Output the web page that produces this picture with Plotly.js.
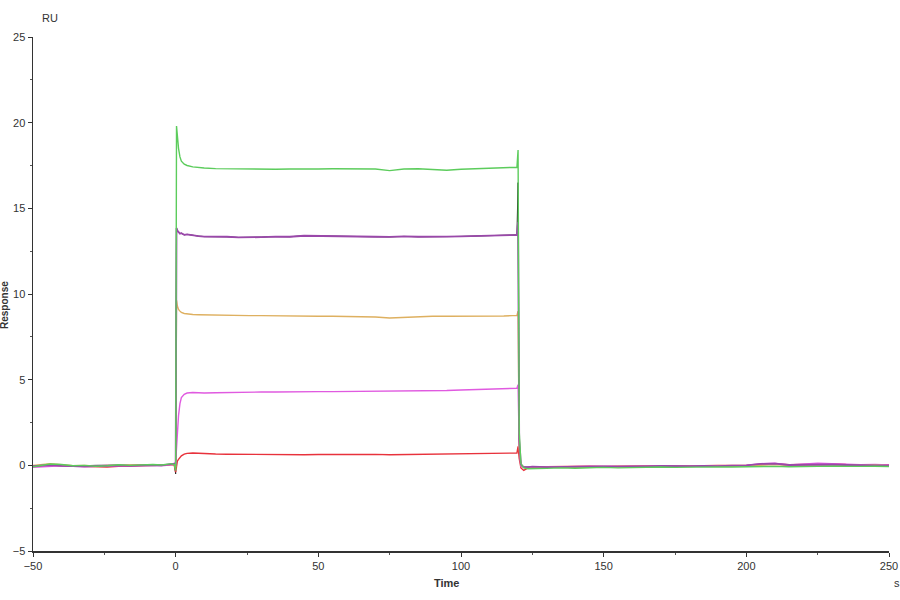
<!DOCTYPE html>
<html>
<head>
<meta charset="utf-8">
<script src="https://cdn.plot.ly/plotly-3.0.1.min.js"></script>
<style>html,body{margin:0;padding:0;background:#fff;}#chart{width:900px;height:600px;}</style>
</head>
<body>
<div id="chart"></div>
<script>
const timeS = [-50,-47,-44,-40,-36,-32,-28,-24,-20,-16,-12,-8,-5,-3,-1.5,-0.5,
  0,
  0.3,0.6,1,1.5,2,3,4,6,8,10,
  14,18,22,26,30,
  35,40,45,50,55,60,65,70,75,80,85,90,95,100,105,110,115,
  119.6,120,
  120.4,121,122,123.5,125,
  130,135,140,145,150,155,160,165,170,175,180,185,190,195,200,205,210,215,220,225,230,235,240,245,250];

const greenRU = [-0.08,-0.02,0.08,0.05,-0.02,0.0,-0.05,-0.02,0.03,0.0,0.02,0.05,0.02,0.06,0.1,0.05,
  -0.3,
  19.8,19.1,18.5,18.0,17.75,17.58,17.5,17.42,17.38,17.35,
  17.32,17.31,17.3,17.28,17.27,
  17.28,17.3,17.28,17.3,17.31,17.3,17.3,17.3,17.2,17.3,17.31,17.25,17.22,17.28,17.32,17.36,17.38,
  17.4,18.4,
  2.0,0.1,-0.15,-0.2,-0.2,
  -0.18,-0.15,-0.17,-0.14,-0.12,-0.15,-0.13,-0.12,-0.1,-0.12,-0.1,-0.11,-0.09,-0.1,-0.08,-0.1,-0.06,-0.08,-0.05,-0.06,-0.05,-0.07,-0.06,-0.05,-0.07];

const purpleRU = [-0.05,0.0,0.02,-0.03,-0.05,-0.06,-0.04,-0.02,0.0,-0.03,0.0,0.02,0.0,0.03,0.05,0.1,
  0.0,
  13.85,13.7,13.6,13.52,13.55,13.45,13.48,13.42,13.38,13.35,
  13.36,13.34,13.3,13.33,13.32,
  13.35,13.34,13.4,13.38,13.36,13.38,13.35,13.34,13.33,13.36,13.34,13.33,13.35,13.36,13.38,13.4,13.42,
  13.45,14.2,
  1.5,0.05,-0.1,-0.1,-0.08,
  -0.1,-0.08,-0.1,-0.07,-0.06,-0.08,-0.05,-0.06,-0.04,-0.06,-0.05,-0.03,-0.05,-0.02,0.0,0.08,0.1,0.02,0.03,0.06,0.05,0.02,0.01,0.0,-0.02];

const tanRU = [0.0,0.05,0.1,0.03,-0.02,0.0,-0.03,0.0,0.02,0.0,0.03,0.02,0.0,0.04,0.06,0.05,
  -0.1,
  9.65,9.3,9.1,9.0,8.92,8.86,8.83,8.8,8.79,8.78,
  8.77,8.76,8.75,8.74,8.74,
  8.72,8.72,8.72,8.7,8.7,8.7,8.68,8.66,8.6,8.64,8.68,8.7,8.7,8.7,8.71,8.72,8.72,
  8.75,9.0,
  1.0,0.0,-0.12,-0.15,-0.12,
  -0.12,-0.1,-0.11,-0.08,-0.1,-0.07,-0.08,-0.06,-0.08,-0.05,-0.06,-0.05,-0.04,-0.05,-0.03,0.0,0.05,0.0,0.02,0.05,0.04,0.03,0.0,0.02,-0.02];

const magentaRU = [-0.12,-0.08,-0.05,-0.02,-0.05,-0.08,-0.06,-0.04,-0.05,-0.03,-0.02,0.0,-0.02,0.0,0.02,0.05,
  0.2,
  1.0,2.0,2.9,3.6,3.95,4.15,4.22,4.25,4.22,4.22,
  4.24,4.26,4.27,4.28,4.28,
  4.28,4.3,4.3,4.3,4.3,4.31,4.3,4.31,4.3,4.32,4.33,4.35,4.37,4.4,4.43,4.45,4.48,
  4.5,4.7,
  1.2,-0.05,-0.12,-0.12,-0.1,
  -0.1,-0.08,-0.1,-0.06,-0.07,-0.05,-0.06,-0.05,-0.04,-0.05,-0.03,-0.04,-0.02,-0.03,0.0,0.1,0.12,0.02,0.05,0.12,0.1,0.05,0.03,0.05,0.02];

const redRU = [-0.08,-0.03,0.02,-0.02,-0.05,-0.04,-0.08,-0.1,-0.06,-0.04,-0.02,0.0,-0.02,0.02,0.05,0.0,
  -0.4,
  0.1,0.25,0.35,0.45,0.55,0.65,0.7,0.72,0.7,0.68,
  0.66,0.65,0.64,0.66,0.64,
  0.65,0.63,0.62,0.63,0.64,0.62,0.63,0.64,0.62,0.63,0.62,0.64,0.66,0.67,0.68,0.7,0.7,
  0.72,1.1,
  0.4,-0.15,-0.3,-0.15,-0.08,
  -0.08,-0.06,-0.07,-0.05,-0.06,-0.04,-0.05,-0.03,-0.04,-0.02,-0.03,-0.02,-0.01,-0.02,0.0,0.05,0.08,0.03,0.05,0.1,0.08,0.05,0.04,0.05,0.03];

const blackRU = [-0.05,0.0,0.03,0.0,-0.03,-0.02,0.0,0.02,0.0,0.01,0.0,0.0,-0.02,0.0,0.05,0.1,
  -0.5,
  13.85,13.7,13.6,13.52,13.55,13.45,13.48,13.42,13.38,13.35,
  13.36,13.34,13.3,13.33,13.32,
  13.35,13.34,13.4,13.38,13.36,13.38,13.35,13.34,13.33,13.36,13.34,13.33,13.35,13.36,13.38,13.4,13.42,
  13.45,16.5,
  1.0,0.0,-0.1,-0.1,-0.08,
  -0.09,-0.08,-0.09,-0.07,-0.06,-0.07,-0.05,-0.06,-0.05,-0.05,-0.04,-0.04,-0.04,-0.03,-0.01,0.05,0.08,0.02,0.03,0.05,0.04,0.02,0.01,0.0,-0.02];

const series = [
  {name:'black', y: blackRU, color:'#222222', w:1.0},
  {name:'red', y: redRU, color:'#e8323c', w:1.4},
  {name:'magenta', y: magentaRU, color:'#e05ae0', w:1.4},
  {name:'tan', y: tanRU, color:'#deb060', w:1.4},
  {name:'purple', y: purpleRU, color:'#9a48aa', w:1.8},
  {name:'green', y: greenRU, color:'#5ccc5c', w:1.4}
];

const traces = series.map(s => ({
  x: timeS, y: s.y, type:'scatter', mode:'lines', name:s.name,
  line:{color:s.color, width:s.w}, hoverinfo:'skip'
}));

const tickFont = {family:'Liberation Sans, Arial, sans-serif', size:11, color:'#333'};

const layout = {
  width:900, height:600,
  margin:{l:33, r:11, t:37, b:49, pad:0},
  paper_bgcolor:'#fff', plot_bgcolor:'#fff',
  showlegend:false,
  xaxis:{range:[-50,250], dtick:50, tick0:0, showgrid:false, zeroline:false,
    showline:true, linecolor:'#333', linewidth:1.5,
    ticks:'outside', ticklen:4, tickcolor:'#333', tickfont:tickFont,
    minor:{dtick:25, ticks:'outside', ticklen:2, tickcolor:'#555', showgrid:false}},
  yaxis:{range:[-5,25], dtick:5, tick0:0, showgrid:false, zeroline:false,
    showline:true, linecolor:'#333', linewidth:1.5,
    ticks:'outside', ticklen:4, tickcolor:'#333', tickfont:tickFont,
    minor:{dtick:2.5, ticks:'outside', ticklen:2, tickcolor:'#555', showgrid:false}},
  annotations:[
    {text:'RU', xref:'paper', yref:'paper', x:0.008, y:1.037, showarrow:false,
      xanchor:'left', yanchor:'middle', font:{family:'Liberation Sans, Arial, sans-serif', size:11, color:'#333'}},
    {text:'<b>Response</b>', xref:'paper', yref:'paper', x:-0.0327, y:0.4786, showarrow:false,
      textangle:-90, xanchor:'center', yanchor:'middle', font:{family:'Liberation Sans, Arial, sans-serif', size:10, color:'#333'}},
    {text:'<b>Time</b>', xref:'paper', yref:'paper', x:0.4836, y:-0.0623, showarrow:false,
      xanchor:'center', yanchor:'middle', font:{family:'Liberation Sans, Arial, sans-serif', size:11, color:'#333'}},
    {text:'s', xref:'paper', yref:'paper', x:1.0093, y:-0.0623, showarrow:false,
      xanchor:'center', yanchor:'middle', font:{family:'Liberation Sans, Arial, sans-serif', size:11, color:'#333'}}
  ]
};

Plotly.newPlot('chart', traces, layout, {displayModeBar:false, staticPlot:true});
</script>
</body>
</html>
